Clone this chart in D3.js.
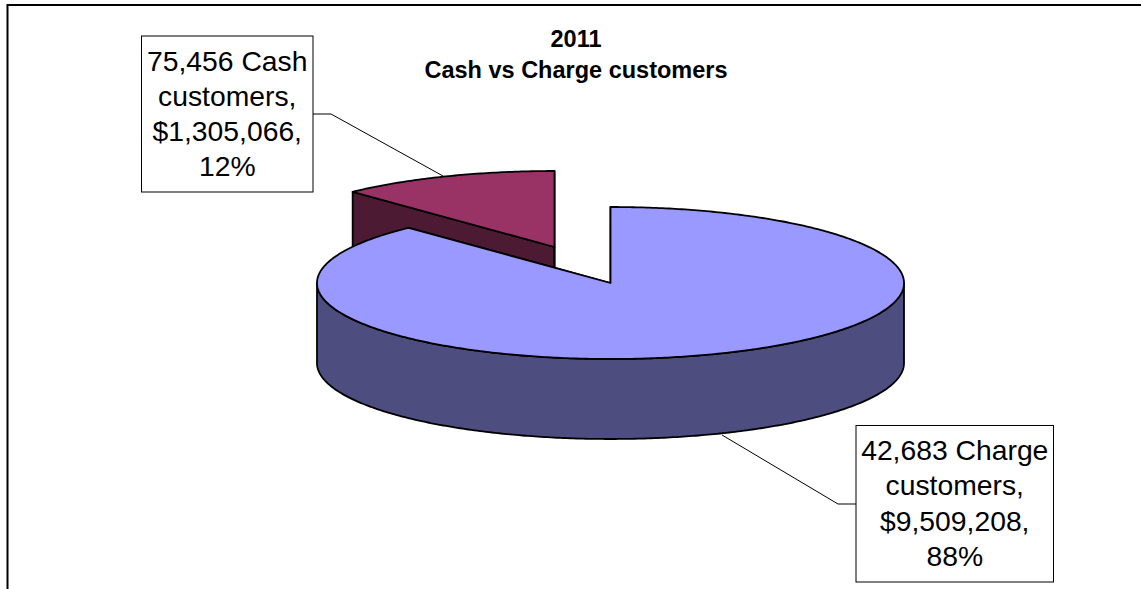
<!DOCTYPE html>
<html><head><meta charset="utf-8">
<script src="https://cdn.jsdelivr.net/npm/d3@7"></script>
<style>html,body{margin:0;padding:0;background:#fff;overflow:hidden}svg{display:block}</style>
</head><body><svg id="c" width="1141" height="589"></svg>
<script>
const categories = ["Charge", "Cash"];
const revenue = [9509208, 1305066];
const topColors = ["#9999FF", "#993366"];
const sideColors = ["#4D4D80", "#4D1A33"];
const titleLines = ["2011", "Cash vs Charge customers"];
const labelLines = [
  ["42,683 Charge", "customers,", "$9,509,208,", "88%"],
  ["75,456 Cash", "customers,", "$1,305,066,", "12%"]
];

const svg = d3.select("#c");
const font = "'Liberation Sans', Arial, sans-serif";
const cx = 610.5, cy = 283, rx = 293.5, ry = 76, depth = 80;
const explode = [[0, 0], [-56, -36]];
const slices = d3.pie().sort(null).value(d => d)(revenue);
const line = d3.line();

// frame: the right and bottom edges lie outside the picture
svg.append("path").attr("d", "M7.5,589V5H1141").attr("fill", "none").attr("stroke", "#000").attr("stroke-width", 2);

function pt(a, i, dy = 0) {
  return [cx + explode[i][0] + rx * Math.sin(a), cy + explode[i][1] + dy - ry * Math.cos(a)];
}
function arcPts(s, i, dy = 0) {
  const n = Math.max(8, Math.round((s.endAngle - s.startAngle) * 90));
  return d3.range(n + 1).map(k => pt(s.startAngle + (s.endAngle - s.startAngle) * k / n, i, dy));
}
const stroke = (sel, w = 1.8) => sel.attr("stroke", "#000").attr("stroke-width", w).attr("stroke-linejoin", "round");

function drawSlice(i) {
  const s = slices[i];
  const apex = [cx + explode[i][0], cy + explode[i][1]];
  const g = svg.append("g");
  [s.startAngle, s.endAngle].forEach(a => {
    const e = pt(a, i);
    stroke(g.append("path").attr("d", line([apex, e, [e[0], e[1] + depth], [apex[0], apex[1] + depth]]) + "Z").attr("fill", sideColors[i]));
  });
  const lo = Math.max(s.startAngle, Math.PI / 2), hi = Math.min(s.endAngle, 3 * Math.PI / 2);
  if (hi > lo) {
    const part = { startAngle: lo, endAngle: hi };
    const pts = arcPts(part, i).concat(arcPts(part, i, depth).reverse());
    stroke(g.append("path").attr("d", line(pts) + "Z").attr("fill", sideColors[i]));
  }
  stroke(g.append("path").attr("d", line([apex].concat(arcPts(s, i))) + "Z").attr("fill", topColors[i]));
}
drawSlice(1);
drawSlice(0);

const leaders = [
  [[722, 435], [838, 504], [856, 504]],
  [[443, 176], [331, 114], [313, 114]]
];
leaders.forEach(l => svg.append("path").attr("d", line(l)).attr("fill", "none").attr("stroke", "#000").attr("stroke-width", 1));

const boxes = [
  { x: 856, y: 425.5, w: 197.5, h: 156.5 },
  { x: 141.5, y: 36, w: 171.5, h: 156 }
];
boxes.forEach((b, i) => {
  svg.append("rect").attr("x", b.x).attr("y", b.y).attr("width", b.w).attr("height", b.h)
    .attr("fill", "#fff").attr("stroke", "#000").attr("stroke-width", 1);
  svg.append("text").attr("font-family", font).attr("font-size", 28.3).attr("fill", "#000")
    .attr("text-anchor", "middle")
    .selectAll("tspan").data(labelLines[i]).join("tspan")
    .attr("x", b.x + b.w / 2).attr("y", (d, k) => b.y + 34.5 + k * 35.3).text(d => d);
});

svg.append("text").attr("font-family", font).attr("font-size", 23.5).attr("font-weight", "bold")
  .attr("text-anchor", "middle").attr("fill", "#000")
  .selectAll("tspan").data(titleLines).join("tspan")
  .attr("x", 576).attr("y", (d, k) => 47 + k * 31).text(d => d);
</script></body></html>
